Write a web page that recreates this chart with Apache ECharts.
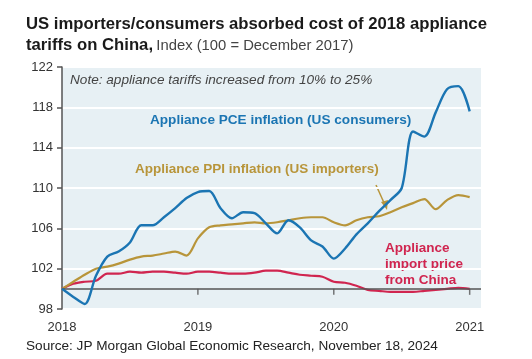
<!DOCTYPE html>
<html><head><meta charset="utf-8">
<script src="https://cdn.jsdelivr.net/npm/echarts@6/dist/echarts.min.js"></script>
<style>html,body{margin:0;padding:0;background:#fff}#c{width:532px;height:359px}</style>
</head><body><div id="c"></div>
<script>
// Months since December 2017 (0 = Dec 2017)
const months = [0,1,2,3,4,5,6,7,8,9,10,11,12,13,14,15,16,17,18,19,20,21,22,23,24,25,26,27,28,29,30,31,32,33,34,35,36];
const pce = [100,99.2,98.5,101.3,103.2,103.7,104.6,106.3,106.3,107.1,108.0,109.0,109.6,109.7,108.0,107.0,107.6,107.5,106.5,105.5,106.8,106.1,104.8,104.2,103.0,104.0,105.4,106.5,107.7,108.8,110.0,115.6,115.1,117.5,119.8,120.1,117.6];
const ppi = [100,100.7,101.4,102.0,102.2,102.5,102.9,103.2,103.3,103.5,103.7,103.3,105.0,106.1,106.3,106.4,106.5,106.6,106.5,106.6,106.8,107.0,107.1,107.1,106.6,106.3,106.8,107.1,107.2,107.6,108.1,108.5,108.9,107.9,108.8,109.3,109.1];
const importPrice = [100,100.5,100.7,100.8,101.5,101.5,101.7,101.6,101.7,101.7,101.6,101.5,101.7,101.7,101.6,101.5,101.5,101.6,101.8,101.8,101.6,101.4,101.3,101.2,100.7,100.6,100.3,99.9,99.8,99.7,99.7,99.7,99.8,99.9,100.0,100.1,100.0];
const yearTicks = [12,24,36];
const yTicks = [98,102,106,110,114,118,122];

const FONT = '"Liberation Sans", Arial, sans-serif';
const chart = echarts.init(document.getElementById('c'));
const zip = a => months.map((m,i)=>[m,a[i]]);
chart.setOption({
  animation:false,
  grid:{left:62,right:51,top:67,bottom:50,show:true,backgroundColor:'#e7f0f4',borderWidth:0},
  xAxis:{type:'value',min:0,max:37,interval:12,
    axisLine:{show:false},axisTick:{show:false},splitLine:{show:false},
    axisLabel:{color:'#333',fontFamily:FONT,fontSize:13,margin:12,
      formatter:v=>(v%12===0&&v<=36)?String(2018+v/12):''}},
  yAxis:{type:'value',min:98,max:122,interval:4,
    axisLine:{show:true,lineStyle:{color:'#555',width:1.5}},
    axisTick:{show:true,length:5,lineStyle:{color:'#555',width:1.5}},
    splitLine:{show:true,lineStyle:{color:'#ffffff',width:2}},
    axisLabel:{color:'#333',fontFamily:FONT,fontSize:13,margin:9}},
  series:[
    {type:'line',data:zip(importPrice),smooth:0.3,symbol:'none',lineStyle:{color:'#d0254f',width:2.2},z:3,
     markLine:{silent:true,symbol:'none',label:{show:false},lineStyle:{color:'#555',width:1.5,type:'solid'},data:[{yAxis:100}]}},
    {type:'line',data:zip(ppi),smooth:0.3,symbol:'none',lineStyle:{color:'#b8953a',width:2.2},z:4},
    {type:'line',data:zip(pce),smooth:0.3,symbol:'none',lineStyle:{color:'#1b75b3',width:2.4},z:5},
    {type:'scatter',data:yearTicks.map(m=>[m,100]),symbol:'rect',symbolSize:[1.5,6],symbolOffset:[0,3],
     itemStyle:{color:'#555'},silent:true,z:2}
  ],
  graphic:[
    {type:'text',left:26,top:16,style:{text:'US importers/consumers absorbed cost of 2018 appliance',font:'bold 16.7px '+FONT,fill:'#1a1a1a'}},
    {type:'text',left:26,top:37,style:{text:'{b|tariffs on China,} {r|Index (100 = December 2017)}',
      rich:{b:{font:'bold 16.7px '+FONT,fill:'#1a1a1a'},r:{font:'14.8px '+FONT,fill:'#444'}}}},
    {type:'text',left:70,top:73,style:{text:'Note: appliance tariffs increased from 10% to 25%',font:'italic 13.6px '+FONT,fill:'#444'}},
    {type:'text',left:150,top:113,style:{text:'Appliance PCE inflation (US consumers)',font:'bold 13.6px '+FONT,fill:'#1b75b3'}},
    {type:'text',left:135,top:162,style:{text:'Appliance PPI inflation (US importers)',font:'bold 13.5px '+FONT,fill:'#b8953a'}},
    {type:'text',left:385,top:240,style:{text:'Appliance\nimport price\nfrom China',font:'bold 13.5px '+FONT,lineHeight:16,fill:'#d0254f'}},
    {type:'line',shape:{x1:376,y1:185,x2:385,y2:205},style:{stroke:'#b8953a',lineWidth:1.5}},
    {type:'polygon',shape:{points:[[387,210],[381,202],[388,200]]},style:{fill:'#b8953a'}},
    {type:'text',left:26,top:339,style:{text:'Source: JP Morgan Global Economic Research, November 18, 2024',font:'13.6px '+FONT,fill:'#222'}}
  ]
});
</script></body></html>
